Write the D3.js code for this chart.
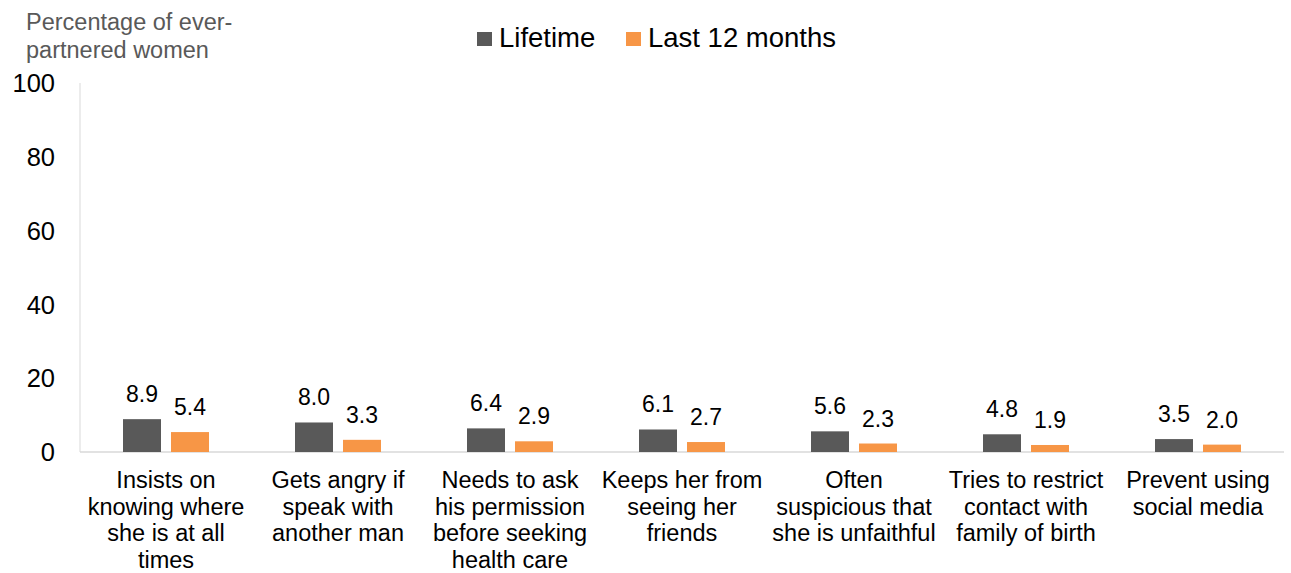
<!DOCTYPE html>
<html>
<head>
<meta charset="utf-8">
<script src="https://cdn.jsdelivr.net/npm/d3@7"></script>
<style>
 body { margin: 0; background: #fff; }
 svg { font-family: "Liberation Sans", Arial, sans-serif; }
</style>
</head>
<body>
<svg width="1291" height="573"></svg>
<script>
'use strict';
//..........Data................
const categories = [
  ['Insists on', 'knowing where', 'she is at all', 'times'],
  ['Gets angry if', 'speak with', 'another man'],
  ['Needs to ask', 'his permission', 'before seeking', 'health care'],
  ['Keeps her from', 'seeing her', 'friends'],
  ['Often', 'suspicious that', 'she is unfaithful'],
  ['Tries to restrict', 'contact with', 'family of birth'],
  ['Prevent using', 'social media']
];
const lifetime = [8.9, 8.0, 6.4, 6.1, 5.6, 4.8, 3.5];
const last12 = [5.4, 3.3, 2.9, 2.7, 2.3, 1.9, 2.0];
const yTicks = [0, 20, 40, 60, 80, 100];
const seriesNames = ['Lifetime', 'Last 12 months'];
const colors = ['#595959', '#F79646'];

const svg = d3.select('svg');
const margin = {left: 80, right: 7, top: 83, bottom: 121};
const width = +svg.attr('width');
const height = +svg.attr('height');

const x = d3.scaleBand()
  .domain(d3.range(categories.length))
  .range([margin.left, width - margin.right]);
const y = d3.scaleLinear()
  .domain([0, 100])
  .range([height - margin.bottom, margin.top]);
const barW = 38, gap = 10;

//..........Title...............
svg.append('text')
  .attr('fill', '#595959')
  .attr('font-size', 23.5)
  .selectAll('tspan')
  .data(['Percentage of ever-', 'partnered women'])
  .join('tspan')
  .attr('x', 26)
  .attr('y', (d, i) => 30 + i * 28)
  .text(d => d);

//..........Y axis labels...........
svg.append('g')
  .selectAll('text')
  .data(yTicks)
  .join('text')
  .attr('x', 55)
  .attr('y', d => y(d))
  .attr('dy', '0.36em')
  .attr('text-anchor', 'end')
  .attr('font-size', 25.5)
  .attr('fill', '#000')
  .text(d => d);

// axis lines
svg.append('line')
  .attr('x1', margin.left).attr('x2', margin.left)
  .attr('y1', y(100)).attr('y2', y(0))
  .attr('stroke', '#d9d9d9');
svg.append('line')
  .attr('x1', margin.left).attr('x2', width - margin.right)
  .attr('y1', y(0)).attr('y2', y(0))
  .attr('stroke', '#d9d9d9').attr('stroke-width', 1.5);

//..........Bars..................
const groups = svg.append('g')
  .selectAll('g')
  .data(categories.map((c, i) => ({i, vals: [lifetime[i], last12[i]]})))
  .join('g')
  .attr('transform', d => `translate(${x(d.i) + x.bandwidth() / 2} 0)`);

groups.selectAll('rect')
  .data(d => d.vals)
  .join('rect')
  .attr('x', (d, j) => j === 0 ? -barW - gap / 2 : gap / 2)
  .attr('y', d => y(d))
  .attr('width', barW)
  .attr('height', d => y(0) - y(d))
  .attr('fill', (d, j) => colors[j]);

groups.selectAll('text')
  .data(d => d.vals)
  .join('text')
  .attr('x', (d, j) => j === 0 ? -barW / 2 - gap / 2 : barW / 2 + gap / 2)
  .attr('y', d => y(d) - 17)
  .attr('text-anchor', 'middle')
  .attr('font-size', 23)
  .text(d => d.toFixed(1));

//..........Category labels............
svg.append('g')
  .selectAll('text')
  .data(categories)
  .join('text')
  .attr('text-anchor', 'middle')
  .attr('font-size', 23.5)
  .attr('transform', (d, i) => `translate(${x(i) + x.bandwidth() / 2} 0)`)
  .selectAll('tspan')
  .data(d => d)
  .join('tspan')
  .attr('x', 0)
  .attr('y', (d, i) => 488 + i * 26.5)
  .text(d => d);

//..........Legend..................
const legend = svg.append('g');
const legendX = [477, 626];
seriesNames.forEach((name, i) => {
  legend.append('rect')
    .attr('x', legendX[i]).attr('y', 32)
    .attr('width', 15).attr('height', 14)
    .attr('fill', colors[i]);
  legend.append('text')
    .attr('x', legendX[i] + 22).attr('y', 47)
    .attr('font-size', 27.5)
    .text(name);
});
</script>
</body>
</html>
